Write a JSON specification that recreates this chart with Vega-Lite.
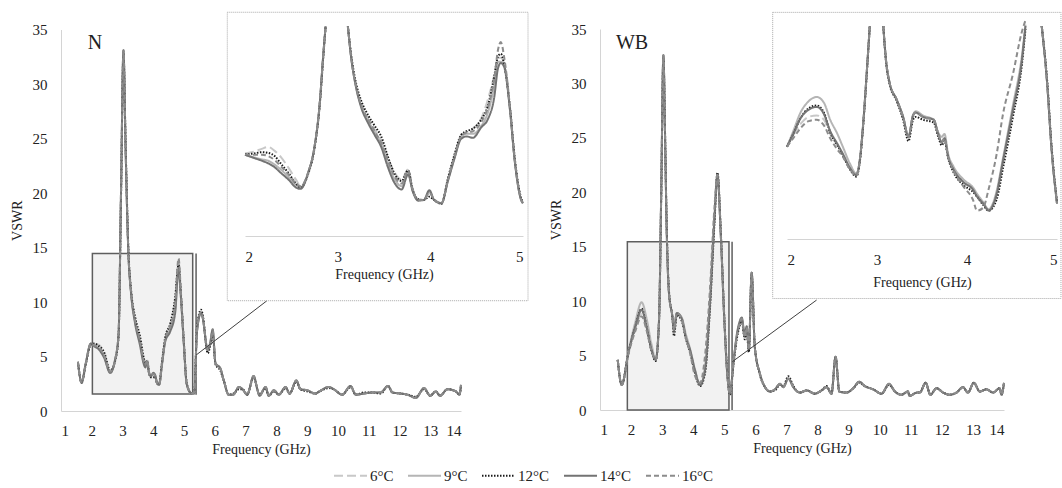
{
"$schema": "https://vega.github.io/schema/vega-lite/v6.json",
"width": 1062, "height": 488, "autosize": "none", "padding": 0, "background": "white",
"config": {
 "view": {"stroke": null},
 "axis": {"labelFont": "Liberation Serif", "labelFontSize": 15, "labelColor": "#222222", "titleFont": "Liberation Serif", "titleFontSize": 14, "titleFontWeight": "normal", "titleColor": "#222222", "domainColor": "#d4d4d4", "domainWidth": 1, "ticks": false, "tickSize": 0, "grid": false},
 "line": {"strokeWidth": 2, "interpolate": "monotone", "strokeCap": "butt"}
},
"datasets": {
 "nm": [
  {"f":1.55,"a":4.5,"b":4.5,"c":4.5,"d":4.5,"e":4.5},
  {"f":1.67,"a":2.6,"b":2.6,"c":2.6,"d":2.6,"e":2.6},
  {"f":1.8,"a":4.3,"b":4.3,"c":4.2,"d":4.3,"e":4.3},
  {"f":1.97,"a":6.1,"b":6.2,"c":6.1,"d":6.2,"e":6.2},
  {"f":2.1,"a":6.1,"b":5.9,"c":6.2,"d":5.9,"e":6.0},
  {"f":2.21,"a":6.1,"b":5.8,"c":6.0,"d":5.7,"e":5.9},
  {"f":2.4,"a":5.3,"b":5.0,"c":5.4,"d":4.9,"e":5.1},
  {"f":2.6,"a":3.6,"b":3.5,"c":3.7,"d":3.5,"e":3.6},
  {"f":2.75,"a":4.6,"b":4.6,"c":4.5,"d":4.6,"e":4.6},
  {"f":2.87,"a":7.0,"b":7.0,"c":6.8,"d":7.0,"e":7.0},
  {"f":2.95,"a":20,"b":20,"c":19.5,"d":20,"e":20},
  {"f":3.03,"a":33,"b":33.1,"c":32.8,"d":33.1,"e":33},
  {"f":3.1,"a":24,"b":24,"c":24.5,"d":24,"e":24},
  {"f":3.19,"a":14.5,"b":14.5,"c":14.8,"d":14.5,"e":14.5},
  {"f":3.28,"a":10.8,"b":10.8,"c":11.0,"d":10.7,"e":10.8},
  {"f":3.41,"a":8.3,"b":8.2,"c":8.6,"d":8.0,"e":8.3},
  {"f":3.57,"a":6.5,"b":6.3,"c":6.8,"d":6.0,"e":6.4},
  {"f":3.68,"a":4.8,"b":4.6,"c":5.0,"d":4.4,"e":4.7},
  {"f":3.74,"a":4.3,"b":4.2,"c":4.4,"d":4.0,"e":4.2},
  {"f":3.8,"a":4.7,"b":4.6,"c":4.6,"d":4.5,"e":4.7},
  {"f":3.86,"a":3.6,"b":3.5,"c":3.5,"d":3.5,"e":3.6},
  {"f":3.92,"a":3.2,"b":3.2,"c":3.1,"d":3.2,"e":3.2},
  {"f":4.0,"a":3.4,"b":3.4,"c":3.1,"d":3.5,"e":3.4},
  {"f":4.06,"a":3.2,"b":3.3,"c":3.1,"d":3.3,"e":3.2},
  {"f":4.13,"a":2.5,"b":2.5,"c":2.5,"d":2.5,"e":2.5},
  {"f":4.19,"a":2.4,"b":2.4,"c":2.5,"d":2.4,"e":2.4},
  {"f":4.28,"a":4.3,"b":4.3,"c":4.4,"d":4.2,"e":4.3},
  {"f":4.39,"a":6.6,"b":6.5,"c":6.8,"d":6.4,"e":6.6},
  {"f":4.55,"a":7.8,"b":7.6,"c":8.0,"d":7.3,"e":7.8},
  {"f":4.71,"a":10.2,"b":9.3,"c":10.4,"d":9.0,"e":9.8},
  {"f":4.82,"a":13.8,"b":13.2,"c":13.4,"d":13.0,"e":14.0},
  {"f":4.9,"a":10.5,"b":10.3,"c":10.6,"d":10.3,"e":10.8},
  {"f":4.98,"a":6.8,"b":6.7,"c":6.9,"d":6.7,"e":6.9},
  {"f":5.09,"a":2.4,"b":2.4,"c":2.5,"d":2.4,"e":2.4},
  {"f":5.25,"a":1.6,"b":1.6,"c":1.6,"d":1.6,"e":1.6},
  {"f":5.33,"a":1.7,"b":1.6,"c":1.7,"d":1.6,"e":1.7},
  {"f":5.42,"a":7.4,"b":7.3,"c":7.6,"d":7.3,"e":7.4},
  {"f":5.55,"a":9.1,"b":9.0,"c":9.3,"d":9.0,"e":9.1},
  {"f":5.6,"a":8.7,"b":8.6,"c":8.9,"d":8.6,"e":8.7},
  {"f":5.77,"a":5.6,"b":5.5,"c":5.3,"d":5.6,"e":5.6},
  {"f":5.85,"a":6.2,"b":6.2,"c":6.0,"d":6.3,"e":6.2},
  {"f":5.93,"a":7.4,"b":7.3,"c":7.0,"d":7.5,"e":7.4},
  {"f":6.02,"a":4.4,"b":4.4,"c":4.3,"d":4.4,"e":4.4},
  {"f":6.18,"a":3.9,"b":3.9,"c":3.7,"d":3.9,"e":3.9},
  {"f":6.29,"a":2.8,"b":2.8,"c":2.8,"d":2.8,"e":2.8},
  {"f":6.45,"a":1.5,"b":1.5,"c":1.5,"d":1.5,"e":1.5},
  {"f":6.6,"a":1.5,"b":1.5,"c":1.6,"d":1.5,"e":1.5},
  {"f":6.78,"a":2.2,"b":2.2,"c":2.0,"d":2.2,"e":2.2},
  {"f":6.9,"a":2.0,"b":2.0,"c":2.0,"d":2.0,"e":2.0},
  {"f":7.05,"a":1.5,"b":1.5,"c":1.5,"d":1.5,"e":1.5},
  {"f":7.26,"a":3.2,"b":3.2,"c":3.1,"d":3.2,"e":3.2},
  {"f":7.39,"a":1.9,"b":1.9,"c":1.9,"d":1.9,"e":1.9},
  {"f":7.45,"a":1.4,"b":1.4,"c":1.5,"d":1.4,"e":1.4},
  {"f":7.65,"a":2.2,"b":2.2,"c":2.1,"d":2.2,"e":2.2},
  {"f":7.75,"a":1.4,"b":1.4,"c":1.4,"d":1.4,"e":1.4},
  {"f":7.92,"a":1.9,"b":1.9,"c":1.8,"d":1.9,"e":1.9},
  {"f":8.08,"a":1.5,"b":1.5,"c":1.5,"d":1.5,"e":1.5},
  {"f":8.3,"a":2.2,"b":2.2,"c":2.1,"d":2.2,"e":2.2},
  {"f":8.43,"a":1.6,"b":1.6,"c":1.6,"d":1.6,"e":1.6},
  {"f":8.65,"a":2.8,"b":2.8,"c":2.7,"d":2.8,"e":2.8},
  {"f":8.78,"a":2.0,"b":2.0,"c":2.0,"d":2.0,"e":2.0},
  {"f":9.0,"a":1.9,"b":1.9,"c":1.8,"d":1.9,"e":1.9},
  {"f":9.27,"a":1.6,"b":1.6,"c":1.6,"d":1.6,"e":1.6},
  {"f":9.4,"a":1.8,"b":1.8,"c":1.8,"d":1.8,"e":1.8},
  {"f":9.7,"a":2.2,"b":2.2,"c":2.1,"d":2.2,"e":2.2},
  {"f":9.86,"a":2.0,"b":2.0,"c":2.0,"d":2.0,"e":2.0},
  {"f":10.14,"a":1.5,"b":1.5,"c":1.5,"d":1.5,"e":1.5},
  {"f":10.41,"a":2.3,"b":2.3,"c":2.2,"d":2.3,"e":2.3},
  {"f":10.58,"a":1.5,"b":1.5,"c":1.5,"d":1.5,"e":1.5},
  {"f":10.85,"a":1.6,"b":1.6,"c":1.7,"d":1.6,"e":1.6},
  {"f":11.12,"a":1.7,"b":1.7,"c":1.7,"d":1.7,"e":1.7},
  {"f":11.39,"a":1.7,"b":1.7,"c":1.6,"d":1.7,"e":1.7},
  {"f":11.63,"a":2.3,"b":2.3,"c":2.3,"d":2.3,"e":2.3},
  {"f":11.77,"a":1.7,"b":1.7,"c":1.7,"d":1.7,"e":1.7},
  {"f":12.04,"a":1.6,"b":1.6,"c":1.6,"d":1.6,"e":1.6},
  {"f":12.26,"a":1.5,"b":1.5,"c":1.5,"d":1.5,"e":1.5},
  {"f":12.53,"a":1.2,"b":1.2,"c":1.3,"d":1.2,"e":1.2},
  {"f":12.8,"a":2.1,"b":2.1,"c":2.0,"d":2.1,"e":2.1},
  {"f":13.0,"a":1.4,"b":1.4,"c":1.4,"d":1.4,"e":1.4},
  {"f":13.18,"a":1.8,"b":1.8,"c":1.8,"d":1.8,"e":1.8},
  {"f":13.32,"a":1.4,"b":1.4,"c":1.4,"d":1.4,"e":1.4},
  {"f":13.56,"a":2.0,"b":2.0,"c":2.0,"d":2.0,"e":2.0},
  {"f":13.83,"a":1.8,"b":1.8,"c":1.8,"d":1.8,"e":1.8},
  {"f":13.95,"a":1.5,"b":1.5,"c":1.5,"d":1.5,"e":1.5},
  {"f":14.0,"a":2.4,"b":2.4,"c":2.3,"d":2.4,"e":2.4}
 ],
 "wm": [
  {"f":1.57,"a":4.6,"b":4.6,"c":4.6,"d":4.6,"e":4.6},
  {"f":1.7,"a":2.3,"b":2.3,"c":2.3,"d":2.3,"e":2.3},
  {"f":1.91,"a":5.2,"b":5.3,"c":5.2,"d":5.2,"e":5.1},
  {"f":2.13,"a":7.4,"b":8.0,"c":7.6,"d":7.6,"e":7.2},
  {"f":2.34,"a":8.8,"b":9.9,"c":9.3,"d":9.2,"e":8.6},
  {"f":2.5,"a":7.5,"b":8.4,"c":7.6,"d":7.6,"e":7.3},
  {"f":2.66,"a":5.5,"b":6.0,"c":5.4,"d":5.5,"e":5.4},
  {"f":2.79,"a":4.6,"b":4.7,"c":4.5,"d":4.6,"e":4.6},
  {"f":2.9,"a":8.3,"b":8.3,"c":8.2,"d":8.3,"e":8.3},
  {"f":2.97,"a":20,"b":20,"c":19.6,"d":20,"e":20},
  {"f":3.04,"a":32.6,"b":32.6,"c":32.3,"d":32.6,"e":32.6},
  {"f":3.1,"a":24,"b":24,"c":24.4,"d":24,"e":24},
  {"f":3.14,"a":17.4,"b":17.4,"c":17.8,"d":17.4,"e":17.4},
  {"f":3.22,"a":10.7,"b":10.7,"c":10.9,"d":10.7,"e":10.7},
  {"f":3.33,"a":8.6,"b":8.6,"c":8.5,"d":8.6,"e":8.6},
  {"f":3.38,"a":7.3,"b":7.3,"c":6.8,"d":7.3,"e":7.3},
  {"f":3.47,"a":8.9,"b":8.9,"c":8.7,"d":8.9,"e":8.9},
  {"f":3.63,"a":8.4,"b":8.5,"c":8.2,"d":8.4,"e":8.4},
  {"f":3.76,"a":6.7,"b":7.0,"c":6.6,"d":6.7,"e":6.7},
  {"f":3.9,"a":5.5,"b":5.6,"c":5.3,"d":5.5,"e":5.2},
  {"f":4.05,"a":3.7,"b":3.8,"c":3.5,"d":3.7,"e":3.2},
  {"f":4.22,"a":2.3,"b":2.3,"c":2.2,"d":2.3,"e":2.5},
  {"f":4.38,"a":3.7,"b":3.9,"c":3.4,"d":3.7,"e":5.0},
  {"f":4.54,"a":9.8,"b":10.1,"c":9.4,"d":9.8,"e":11.2},
  {"f":4.68,"a":17.4,"b":17.6,"c":17.0,"d":17.4,"e":18.5},
  {"f":4.78,"a":21.6,"b":21.5,"c":21.8,"d":21.6,"e":21.6},
  {"f":4.89,"a":15.9,"b":15.9,"c":16.2,"d":15.9,"e":15.9},
  {"f":5.0,"a":8.3,"b":8.3,"c":8.5,"d":8.3,"e":8.3},
  {"f":5.11,"a":2.8,"b":2.8,"c":2.9,"d":2.8,"e":2.8},
  {"f":5.18,"a":1.5,"b":1.5,"c":1.4,"d":1.5,"e":1.5},
  {"f":5.3,"a":4.5,"b":4.5,"c":4.3,"d":4.5,"e":4.5},
  {"f":5.4,"a":6.7,"b":6.7,"c":6.5,"d":6.9,"e":6.7},
  {"f":5.48,"a":7.8,"b":7.8,"c":7.6,"d":8.0,"e":7.8},
  {"f":5.56,"a":8.4,"b":8.3,"c":8.2,"d":8.5,"e":8.4},
  {"f":5.66,"a":6.7,"b":6.7,"c":6.5,"d":6.9,"e":6.7},
  {"f":5.72,"a":7.6,"b":7.5,"c":7.3,"d":7.7,"e":7.6},
  {"f":5.79,"a":5.5,"b":5.5,"c":5.3,"d":5.6,"e":5.5},
  {"f":5.88,"a":12.6,"b":12.5,"c":12.6,"d":12.6,"e":12.6},
  {"f":5.98,"a":5.8,"b":5.8,"c":5.9,"d":5.8,"e":5.8},
  {"f":6.14,"a":3.4,"b":3.4,"c":3.3,"d":3.4,"e":3.4},
  {"f":6.31,"a":2.1,"b":2.1,"c":2.1,"d":2.1,"e":2.1},
  {"f":6.47,"a":1.7,"b":1.7,"c":1.7,"d":1.7,"e":1.7},
  {"f":6.63,"a":1.9,"b":1.9,"c":1.8,"d":1.9,"e":1.9},
  {"f":6.79,"a":2.4,"b":2.4,"c":2.3,"d":2.4,"e":2.4},
  {"f":6.9,"a":2.1,"b":2.1,"c":2.2,"d":2.1,"e":2.1},
  {"f":7.06,"a":2.9,"b":2.9,"c":3.1,"d":2.9,"e":2.9},
  {"f":7.22,"a":2.1,"b":2.1,"c":2.2,"d":2.1,"e":2.1},
  {"f":7.43,"a":1.6,"b":1.6,"c":1.6,"d":1.6,"e":1.6},
  {"f":7.65,"a":1.8,"b":1.8,"c":1.8,"d":1.8,"e":1.8},
  {"f":7.91,"a":1.5,"b":1.5,"c":1.5,"d":1.5,"e":1.5},
  {"f":8.13,"a":1.8,"b":1.8,"c":1.8,"d":1.8,"e":1.8},
  {"f":8.29,"a":2.1,"b":2.1,"c":2.2,"d":2.1,"e":2.1},
  {"f":8.45,"a":1.5,"b":1.5,"c":1.5,"d":1.5,"e":1.5},
  {"f":8.58,"a":4.9,"b":4.9,"c":4.9,"d":4.9,"e":4.9},
  {"f":8.7,"a":1.7,"b":1.7,"c":1.7,"d":1.7,"e":1.7},
  {"f":8.93,"a":1.6,"b":1.6,"c":1.6,"d":1.6,"e":1.6},
  {"f":9.15,"a":2.0,"b":2.0,"c":2.0,"d":2.0,"e":2.0},
  {"f":9.34,"a":2.6,"b":2.6,"c":2.5,"d":2.6,"e":2.6},
  {"f":9.52,"a":2.2,"b":2.2,"c":2.2,"d":2.2,"e":2.2},
  {"f":9.79,"a":1.9,"b":1.9,"c":1.9,"d":1.9,"e":1.9},
  {"f":10.06,"a":1.5,"b":1.5,"c":1.5,"d":1.5,"e":1.5},
  {"f":10.3,"a":2.4,"b":2.4,"c":2.3,"d":2.4,"e":2.4},
  {"f":10.49,"a":1.7,"b":1.7,"c":1.7,"d":1.7,"e":1.7},
  {"f":10.7,"a":1.4,"b":1.4,"c":1.4,"d":1.4,"e":1.4},
  {"f":10.91,"a":1.7,"b":1.7,"c":1.7,"d":1.7,"e":1.7},
  {"f":10.96,"a":1.3,"b":1.3,"c":1.3,"d":1.3,"e":1.3},
  {"f":11.2,"a":1.6,"b":1.6,"c":1.6,"d":1.6,"e":1.6},
  {"f":11.29,"a":1.6,"b":1.6,"c":1.6,"d":1.6,"e":1.6},
  {"f":11.48,"a":2.5,"b":2.5,"c":2.5,"d":2.5,"e":2.5},
  {"f":11.63,"a":1.4,"b":1.4,"c":1.4,"d":1.4,"e":1.4},
  {"f":11.83,"a":2.0,"b":2.0,"c":2.0,"d":2.0,"e":2.0},
  {"f":12.04,"a":1.6,"b":1.6,"c":1.6,"d":1.6,"e":1.6},
  {"f":12.25,"a":1.4,"b":1.4,"c":1.4,"d":1.4,"e":1.4},
  {"f":12.47,"a":1.6,"b":1.6,"c":1.6,"d":1.6,"e":1.6},
  {"f":12.68,"a":2.1,"b":2.1,"c":2.1,"d":2.1,"e":2.1},
  {"f":12.84,"a":1.6,"b":1.6,"c":1.6,"d":1.6,"e":1.6},
  {"f":13.03,"a":2.5,"b":2.5,"c":2.5,"d":2.5,"e":2.5},
  {"f":13.22,"a":1.7,"b":1.7,"c":1.7,"d":1.7,"e":1.7},
  {"f":13.43,"a":1.9,"b":1.9,"c":1.9,"d":1.9,"e":1.9},
  {"f":13.65,"a":1.6,"b":1.6,"c":1.6,"d":1.6,"e":1.6},
  {"f":13.86,"a":2.0,"b":2.0,"c":2.0,"d":2.0,"e":2.0},
  {"f":13.92,"a":1.4,"b":1.4,"c":1.4,"d":1.4,"e":1.4},
  {"f":14.0,"a":2.5,"b":2.5,"c":2.5,"d":2.5,"e":2.5}
 ],
 "ni": [
  {"s":1,"f":2.0,"a":6.3,"b":6.2,"c":6.25,"d":6.2,"e":6.25},
  {"s":1,"f":2.1,"a":6.45,"b":6.0,"c":6.3,"d":5.95,"e":6.2},
  {"s":1,"f":2.18,"a":6.65,"b":5.85,"c":6.4,"d":5.75,"e":6.2},
  {"s":1,"f":2.25,"a":6.8,"b":5.75,"c":6.35,"d":5.55,"e":6.1},
  {"s":1,"f":2.32,"a":6.5,"b":5.45,"c":6.1,"d":5.25,"e":5.8},
  {"s":1,"f":2.39,"a":6.0,"b":5.05,"c":5.5,"d":4.8,"e":5.3},
  {"s":1,"f":2.47,"a":5.2,"b":4.5,"c":4.8,"d":4.3,"e":4.7},
  {"s":1,"f":2.55,"a":4.3,"b":3.9,"c":4.0,"d":3.7,"e":4.0},
  {"s":1,"f":2.6,"a":3.8,"b":3.7,"c":3.7,"d":3.6,"e":3.8},
  {"s":1,"f":2.68,"a":4.8,"b":4.8,"c":4.7,"d":4.8,"e":4.8},
  {"s":1,"f":2.75,"a":6.8,"b":6.8,"c":6.7,"d":6.8,"e":6.8},
  {"s":1,"f":2.81,"a":10.4,"b":10.4,"c":10.3,"d":10.4,"e":10.4},
  {"s":1,"f":2.84,"a":13.4,"b":13.4,"c":13.2,"d":13.4,"e":13.4},
  {"s":1,"f":2.87,"a":16,"b":16,"c":16,"d":16,"e":16},
  {"s":2,"f":3.11,"a":16,"b":16,"c":16,"d":16,"e":16},
  {"s":2,"f":3.15,"a":13.4,"b":13.4,"c":13.6,"d":13.4,"e":13.4},
  {"s":2,"f":3.2,"a":11.4,"b":11.3,"c":11.6,"d":11.3,"e":11.4},
  {"s":2,"f":3.25,"a":10.1,"b":10.0,"c":10.4,"d":9.9,"e":10.1},
  {"s":2,"f":3.33,"a":8.9,"b":8.8,"c":9.2,"d":8.6,"e":8.9},
  {"s":2,"f":3.4,"a":8.1,"b":7.9,"c":8.4,"d":7.7,"e":8.0},
  {"s":2,"f":3.47,"a":7.3,"b":7.0,"c":7.6,"d":6.8,"e":7.1},
  {"s":2,"f":3.54,"a":6.0,"b":5.6,"c":6.1,"d":5.3,"e":5.8},
  {"s":2,"f":3.61,"a":4.9,"b":4.4,"c":4.8,"d":4.1,"e":4.6},
  {"s":2,"f":3.69,"a":4.3,"b":3.8,"c":4.2,"d":3.55,"e":4.0},
  {"s":2,"f":3.76,"a":5.1,"b":4.9,"c":5.0,"d":4.7,"e":5.0},
  {"s":2,"f":3.81,"a":3.6,"b":3.5,"c":3.5,"d":3.4,"e":3.5},
  {"s":2,"f":3.87,"a":2.8,"b":2.75,"c":2.8,"d":2.7,"e":2.75},
  {"s":2,"f":3.93,"a":2.75,"b":2.75,"c":2.75,"d":2.75,"e":2.75},
  {"s":2,"f":3.99,"a":3.3,"b":3.4,"c":3.0,"d":3.5,"e":3.3},
  {"s":2,"f":4.04,"a":2.8,"b":2.75,"c":2.75,"d":2.75,"e":2.8},
  {"s":2,"f":4.12,"a":2.5,"b":2.5,"c":2.45,"d":2.5,"e":2.5},
  {"s":2,"f":4.19,"a":4.3,"b":4.3,"c":4.4,"d":4.2,"e":4.3},
  {"s":2,"f":4.26,"a":6.05,"b":6.0,"c":6.2,"d":5.9,"e":6.05},
  {"s":2,"f":4.33,"a":7.6,"b":7.5,"c":7.7,"d":7.4,"e":7.6},
  {"s":2,"f":4.39,"a":7.9,"b":7.8,"c":8.0,"d":7.6,"e":7.9},
  {"s":2,"f":4.46,"a":8.2,"b":7.8,"c":8.2,"d":7.5,"e":8.0},
  {"s":2,"f":4.55,"a":9.0,"b":8.4,"c":8.9,"d":8.3,"e":8.7},
  {"s":2,"f":4.62,"a":10.4,"b":9.4,"c":9.9,"d":8.9,"e":9.8},
  {"s":2,"f":4.69,"a":12.3,"b":11.5,"c":12.2,"d":10.6,"e":12.0},
  {"s":2,"f":4.73,"a":13.6,"b":13.3,"c":13.7,"d":12.8,"e":14.2},
  {"s":2,"f":4.76,"a":13.6,"b":13.3,"c":13.9,"d":13.2,"e":14.8},
  {"s":2,"f":4.8,"a":13.0,"b":12.8,"c":13.0,"d":12.9,"e":13.5},
  {"s":2,"f":4.86,"a":9.6,"b":9.6,"c":9.8,"d":9.6,"e":9.8},
  {"s":2,"f":4.91,"a":5.8,"b":5.8,"c":6.0,"d":5.8,"e":5.9},
  {"s":2,"f":4.98,"a":2.75,"b":2.75,"c":2.9,"d":2.75,"e":2.8},
  {"s":2,"f":5.0,"a":2.5,"b":2.5,"c":2.6,"d":2.5,"e":2.5}
 ],
 "wi": [
  {"s":1,"f":2.0,"a":6.5,"b":6.5,"c":6.5,"d":6.5,"e":6.5},
  {"s":1,"f":2.07,"a":7.3,"b":7.6,"c":7.4,"d":7.4,"e":7.1},
  {"s":1,"f":2.15,"a":8.1,"b":8.9,"c":8.5,"d":8.5,"e":7.8},
  {"s":1,"f":2.24,"a":8.6,"b":9.7,"c":9.2,"d":9.1,"e":8.3},
  {"s":1,"f":2.33,"a":8.7,"b":10.0,"c":9.4,"d":9.3,"e":8.4},
  {"s":1,"f":2.41,"a":8.4,"b":9.6,"c":8.9,"d":8.8,"e":8.0},
  {"s":1,"f":2.48,"a":7.4,"b":8.4,"c":7.5,"d":7.6,"e":7.1},
  {"s":1,"f":2.56,"a":6.6,"b":7.4,"c":6.6,"d":6.7,"e":6.3},
  {"s":1,"f":2.62,"a":6.0,"b":6.5,"c":5.9,"d":6.0,"e":5.8},
  {"s":1,"f":2.7,"a":5.0,"b":5.3,"c":4.9,"d":5.0,"e":4.9},
  {"s":1,"f":2.77,"a":4.5,"b":4.6,"c":4.4,"d":4.5,"e":4.5},
  {"s":1,"f":2.81,"a":5.6,"b":5.6,"c":5.5,"d":5.6,"e":5.6},
  {"s":1,"f":2.85,"a":8.4,"b":8.4,"c":8.3,"d":8.4,"e":8.4},
  {"s":1,"f":2.89,"a":12.1,"b":12.1,"c":12.0,"d":12.1,"e":12.1},
  {"s":1,"f":2.92,"a":15,"b":15,"c":15,"d":15,"e":15},
  {"s":2,"f":3.07,"a":15,"b":15,"c":15,"d":15,"e":15},
  {"s":2,"f":3.1,"a":12.6,"b":12.6,"c":12.5,"d":12.6,"e":12.6},
  {"s":2,"f":3.14,"a":11.0,"b":11.0,"c":10.9,"d":11.0,"e":11.0},
  {"s":2,"f":3.22,"a":9.8,"b":9.8,"c":9.7,"d":9.8,"e":9.8},
  {"s":2,"f":3.29,"a":8.6,"b":8.6,"c":8.4,"d":8.6,"e":8.6},
  {"s":2,"f":3.35,"a":7.2,"b":7.2,"c":6.9,"d":7.2,"e":7.2},
  {"s":2,"f":3.4,"a":8.7,"b":8.7,"c":8.4,"d":8.7,"e":8.7},
  {"s":2,"f":3.43,"a":8.9,"b":9.0,"c":8.6,"d":8.9,"e":8.9},
  {"s":2,"f":3.51,"a":8.6,"b":8.7,"c":8.4,"d":8.6,"e":8.6},
  {"s":2,"f":3.63,"a":8.4,"b":8.4,"c":8.2,"d":8.4,"e":8.4},
  {"s":2,"f":3.68,"a":7.4,"b":7.5,"c":7.2,"d":7.4,"e":7.4},
  {"s":2,"f":3.72,"a":6.8,"b":7.2,"c":6.6,"d":6.8,"e":6.8},
  {"s":2,"f":3.75,"a":7.1,"b":7.4,"c":6.9,"d":7.1,"e":7.1},
  {"s":2,"f":3.79,"a":5.8,"b":6.0,"c":5.7,"d":5.8,"e":5.8},
  {"s":2,"f":3.85,"a":4.9,"b":5.1,"c":4.7,"d":4.9,"e":4.8},
  {"s":2,"f":3.96,"a":4.0,"b":4.2,"c":3.8,"d":4.0,"e":3.7},
  {"s":2,"f":4.07,"a":3.45,"b":3.6,"c":3.3,"d":3.45,"e":2.7},
  {"s":2,"f":4.11,"a":3.0,"b":3.2,"c":3.0,"d":3.0,"e":2.0},
  {"s":2,"f":4.18,"a":2.6,"b":2.6,"c":2.4,"d":2.5,"e":2.2},
  {"s":2,"f":4.24,"a":2.0,"b":2.1,"c":2.0,"d":2.0,"e":3.5},
  {"s":2,"f":4.33,"a":3.1,"b":3.4,"c":2.8,"d":3.2,"e":6.0},
  {"s":2,"f":4.4,"a":5.4,"b":5.7,"c":5.0,"d":5.5,"e":8.8},
  {"s":2,"f":4.51,"a":9.0,"b":9.4,"c":8.6,"d":9.1,"e":11.6},
  {"s":2,"f":4.61,"a":12.6,"b":12.9,"c":12.3,"d":12.6,"e":14.6},
  {"s":2,"f":4.65,"a":15.0,"b":15.1,"c":14.8,"d":15.0,"e":15.4},
  {"s":3,"f":4.83,"a":15,"b":15,"c":15,"d":15,"e":15},
  {"s":3,"f":4.89,"a":11.0,"b":11.0,"c":11.2,"d":11.0,"e":11.0},
  {"s":3,"f":4.94,"a":6.3,"b":6.3,"c":6.5,"d":6.3,"e":6.3},
  {"s":3,"f":5.0,"a":2.5,"b":2.5,"c":2.6,"d":2.5,"e":2.5}
 ]
},
"layer": [
 {
  "encoding": {
   "x": {"field": "f", "type": "quantitative", "scale": {"domain": [1, 14], "range": [61, 461], "nice": false, "zero": false}, "axis": {"title": "Frequency (GHz)", "values": [1,2,3,4,5,6,7,8,9,10,11,12,13,14], "format": "d", "orient": "bottom", "offset": -77, "labelPadding": 12, "titlePadding": 4}},
   "y": {"field": "v", "type": "quantitative", "scale": {"domain": [0, 35], "range": [411, 29.5], "nice": false, "zero": false}, "axis": {"title": "VSWR", "values": [0,5,10,15,20,25,30,35], "format": "d", "orient": "left", "offset": -61, "labelPadding": 14, "titlePadding": 8}}
  },
  "layer": [
   {"data": {"values": [{"f": 2.02, "f2": 5.28, "v": 1.56, "v2": 14.44}]}, "mark": {"type": "rect", "fill": "#f2f2f2", "stroke": "#5e5e5e", "strokeWidth": 1.5}, "encoding": {"x2": {"field": "f2"}, "y2": {"field": "v2"}}},
   {"data": {"values": [{"f": 5.39, "v": 1.5, "v2": 14.44}]}, "mark": {"type": "rule", "stroke": "#5e5e5e", "strokeWidth": 1.5}, "encoding": {"y2": {"field": "v2"}}},
   {"data": {"name": "nm"}, "transform": [{"fold": ["a","b","c","d","e"], "as": ["t","v"]}], "mark": {"type": "line"},
    "encoding": {
     "color": {"field": "t", "type": "nominal", "scale": {"domain": ["a","b","c","d","e"], "range": ["#c8c8c8","#b5b5b5","#1a1a1a","#737373","#8c8c8c"]}, "legend": {"orient": "none", "legendX": 333, "legendY": 458, "direction": "horizontal", "title": null, "labelExpr": "datum.value=='a'?'6°C':datum.value=='b'?'9°C':datum.value=='c'?'12°C':datum.value=='d'?'14°C':'16°C'", "labelFont": "Liberation Serif", "labelFontSize": 15, "labelColor": "#222222", "symbolSize": 1089, "symbolStrokeWidth": 2, "columnPadding": 10, "labelOffset": 2}},
     "strokeDash": {"field": "t", "type": "nominal", "scale": {"domain": ["a","b","c","d","e"], "range": [[9,4],[1,0],[1.5,1.5],[1,0],[5,3]]}, "legend": {"orient": "none", "legendX": 333, "legendY": 458, "direction": "horizontal", "title": null, "labelExpr": "datum.value=='a'?'6°C':datum.value=='b'?'9°C':datum.value=='c'?'12°C':datum.value=='d'?'14°C':'16°C'", "labelFont": "Liberation Serif", "labelFontSize": 15, "labelColor": "#222222", "symbolSize": 1089, "symbolStrokeWidth": 2, "columnPadding": 10, "labelOffset": 2}}
    }},
   {"data": {"values": [{"f": 5.39, "v": 5.13, "f2": 7.69, "v2": 10.11}]}, "mark": {"type": "rule", "stroke": "#404040", "strokeWidth": 1}, "encoding": {"x2": {"field": "f2"}, "y2": {"field": "v2"}}},
   {"data": {"values": [{"f": 2.105, "v": 33.76, "label": "N"}]}, "mark": {"type": "text", "font": "Liberation Serif", "fontSize": 20, "color": "#222222"}, "encoding": {"text": {"field": "label"}}}
  ]
 },
 {
  "encoding": {
   "x": {"field": "f", "type": "quantitative", "scale": {"domain": [1, 14], "range": [600, 1004], "nice": false, "zero": false}, "axis": {"title": "Frequency (GHz)", "values": [1,2,3,4,5,6,7,8,9,10,11,12,13,14], "format": "d", "orient": "bottom", "offset": -78, "labelPadding": 12, "titlePadding": 4}},
   "y": {"field": "v", "type": "quantitative", "scale": {"domain": [0, 35], "range": [410, 29], "nice": false, "zero": false}, "axis": {"title": "VSWR", "values": [0,5,10,15,20,25,30,35], "format": "d", "orient": "left", "offset": -600, "labelPadding": 14, "titlePadding": 8}}
  },
  "layer": [
   {"data": {"values": [{"f": 1.88, "f2": 5.15, "v": 0, "v2": 15.45}]}, "mark": {"type": "rect", "fill": "#f2f2f2", "stroke": "#5e5e5e", "strokeWidth": 1.5}, "encoding": {"x2": {"field": "f2"}, "y2": {"field": "v2"}}},
   {"data": {"values": [{"f": 5.25, "v": 0, "v2": 15.45}]}, "mark": {"type": "rule", "stroke": "#5e5e5e", "strokeWidth": 1.5}, "encoding": {"y2": {"field": "v2"}}},
   {"data": {"name": "wm"}, "transform": [{"fold": ["a","b","c","d","e"], "as": ["t","v"]}], "mark": {"type": "line"},
    "encoding": {
     "color": {"field": "t", "type": "nominal", "scale": {"domain": ["a","b","c","d","e"], "range": ["#c8c8c8","#b5b5b5","#1a1a1a","#737373","#8c8c8c"]}, "legend": {"orient": "none", "legendX": 333, "legendY": 458, "direction": "horizontal", "title": null, "labelExpr": "datum.value=='a'?'6°C':datum.value=='b'?'9°C':datum.value=='c'?'12°C':datum.value=='d'?'14°C':'16°C'", "labelFont": "Liberation Serif", "labelFontSize": 15, "labelColor": "#222222", "symbolSize": 1089, "symbolStrokeWidth": 2, "columnPadding": 10, "labelOffset": 2}},
     "strokeDash": {"field": "t", "type": "nominal", "scale": {"domain": ["a","b","c","d","e"], "range": [[9,4],[1,0],[1.5,1.5],[1,0],[5,3]]}, "legend": {"orient": "none", "legendX": 333, "legendY": 458, "direction": "horizontal", "title": null, "labelExpr": "datum.value=='a'?'6°C':datum.value=='b'?'9°C':datum.value=='c'?'12°C':datum.value=='d'?'14°C':'16°C'", "labelFont": "Liberation Serif", "labelFontSize": 15, "labelColor": "#222222", "symbolSize": 1089, "symbolStrokeWidth": 2, "columnPadding": 10, "labelOffset": 2}}
    }},
   {"data": {"values": [{"f": 5.26, "v": 4.44, "f2": 7.97, "v2": 10.1}]}, "mark": {"type": "rule", "stroke": "#404040", "strokeWidth": 1}, "encoding": {"x2": {"field": "f2"}, "y2": {"field": "v2"}}},
   {"data": {"values": [{"f": 2.03, "v": 33.7, "label": "WB"}]}, "mark": {"type": "text", "font": "Liberation Serif", "fontSize": 20, "color": "#222222"}, "encoding": {"text": {"field": "label"}}}
  ]
 },
 {
  "encoding": {
   "x": {"field": "f", "type": "quantitative", "scale": {"domain": [2, 5], "range": [245, 523], "nice": false, "zero": false}, "axis": {"title": "Frequency (GHz)", "values": [2,3,4,5], "format": "d", "orient": "bottom", "offset": -252, "labelPadding": 13, "titlePadding": 3}},
   "y": {"field": "v", "type": "quantitative", "scale": {"domain": [0, 16], "range": [236, 26.4], "nice": false, "zero": false}, "axis": null}
  },
  "layer": [
   {"data": {"values": [{"f": 1.809, "f2": 5.054, "v": -4.94, "v2": 17.08}]}, "mark": {"type": "rect", "fill": "white", "fillOpacity": 0, "stroke": "#a8a8a8", "strokeWidth": 1, "strokeDash": [1, 1]}, "encoding": {"x2": {"field": "f2"}, "y2": {"field": "v2"}}},
   {"data": {"name": "ni"}, "transform": [{"fold": ["a","b","c","d","e"], "as": ["t","v"]}], "mark": {"type": "line"},
    "encoding": {
     "detail": {"field": "s", "type": "nominal"},
     "color": {"field": "t", "type": "nominal", "scale": {"domain": ["a","b","c","d","e"], "range": ["#c8c8c8","#b5b5b5","#1a1a1a","#737373","#8c8c8c"]}, "legend": {"orient": "none", "legendX": 333, "legendY": 458, "direction": "horizontal", "title": null, "labelExpr": "datum.value=='a'?'6°C':datum.value=='b'?'9°C':datum.value=='c'?'12°C':datum.value=='d'?'14°C':'16°C'", "labelFont": "Liberation Serif", "labelFontSize": 15, "labelColor": "#222222", "symbolSize": 1089, "symbolStrokeWidth": 2, "columnPadding": 10, "labelOffset": 2}},
     "strokeDash": {"field": "t", "type": "nominal", "scale": {"domain": ["a","b","c","d","e"], "range": [[9,4],[1,0],[1.5,1.5],[1,0],[5,3]]}, "legend": {"orient": "none", "legendX": 333, "legendY": 458, "direction": "horizontal", "title": null, "labelExpr": "datum.value=='a'?'6°C':datum.value=='b'?'9°C':datum.value=='c'?'12°C':datum.value=='d'?'14°C':'16°C'", "labelFont": "Liberation Serif", "labelFontSize": 15, "labelColor": "#222222", "symbolSize": 1089, "symbolStrokeWidth": 2, "columnPadding": 10, "labelOffset": 2}}
    }}
  ]
 },
 {
  "encoding": {
   "x": {"field": "f", "type": "quantitative", "scale": {"domain": [2, 5], "range": [787, 1057], "nice": false, "zero": false}, "axis": {"title": "Frequency (GHz)", "values": [2,3,4,5], "format": "d", "orient": "bottom", "offset": -249, "labelPadding": 13, "titlePadding": 8}},
   "y": {"field": "v", "type": "quantitative", "scale": {"domain": [0, 15], "range": [239, 26], "nice": false, "zero": false}, "axis": null}
  },
  "layer": [
   {"data": {"values": [{"f": 1.841, "f2": 5.044, "v": -4.19, "v2": 15.96}]}, "mark": {"type": "rect", "fill": "white", "fillOpacity": 0, "stroke": "#a8a8a8", "strokeWidth": 1, "strokeDash": [1, 1]}, "encoding": {"x2": {"field": "f2"}, "y2": {"field": "v2"}}},
   {"data": {"name": "wi"}, "transform": [{"fold": ["a","b","c","d","e"], "as": ["t","v"]}], "mark": {"type": "line"},
    "encoding": {
     "detail": {"field": "s", "type": "nominal"},
     "color": {"field": "t", "type": "nominal", "scale": {"domain": ["a","b","c","d","e"], "range": ["#c8c8c8","#b5b5b5","#1a1a1a","#737373","#8c8c8c"]}, "legend": {"orient": "none", "legendX": 333, "legendY": 458, "direction": "horizontal", "title": null, "labelExpr": "datum.value=='a'?'6°C':datum.value=='b'?'9°C':datum.value=='c'?'12°C':datum.value=='d'?'14°C':'16°C'", "labelFont": "Liberation Serif", "labelFontSize": 15, "labelColor": "#222222", "symbolSize": 1089, "symbolStrokeWidth": 2, "columnPadding": 10, "labelOffset": 2}},
     "strokeDash": {"field": "t", "type": "nominal", "scale": {"domain": ["a","b","c","d","e"], "range": [[9,4],[1,0],[1.5,1.5],[1,0],[5,3]]}, "legend": {"orient": "none", "legendX": 333, "legendY": 458, "direction": "horizontal", "title": null, "labelExpr": "datum.value=='a'?'6°C':datum.value=='b'?'9°C':datum.value=='c'?'12°C':datum.value=='d'?'14°C':'16°C'", "labelFont": "Liberation Serif", "labelFontSize": 15, "labelColor": "#222222", "symbolSize": 1089, "symbolStrokeWidth": 2, "columnPadding": 10, "labelOffset": 2}}
    }}
  ]
 }
],
"resolve": {"scale": {"x": "independent", "y": "independent"}}
}
